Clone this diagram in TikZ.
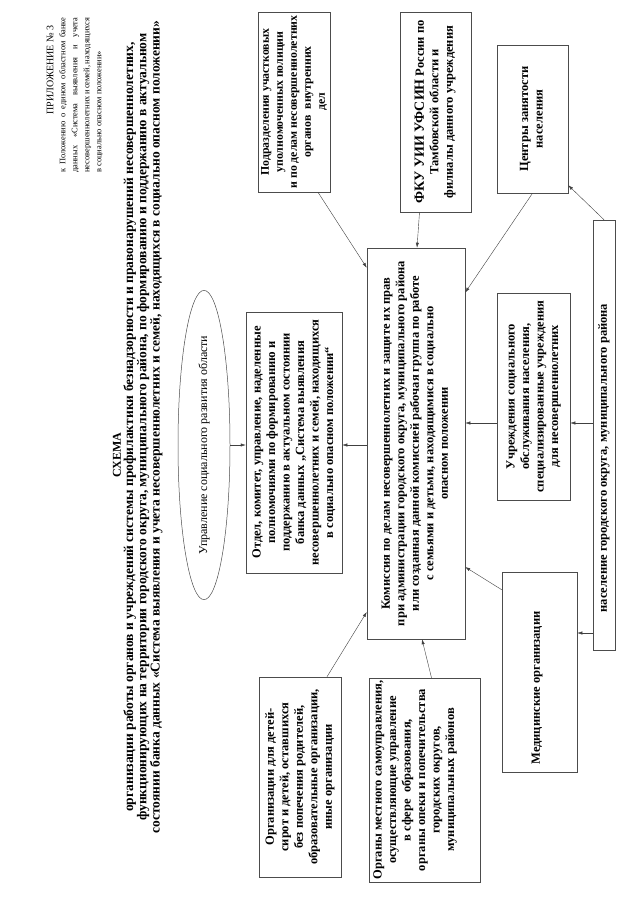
\documentclass[tikz,border=0pt]{standalone}
\usepackage{fontspec}
\setmainfont{Liberation Serif}
\usetikzlibrary{shapes.geometric,arrows.meta}
\newcommand{\rt}[1]{\rotatebox{90}{\begin{tabular}{@{}c@{}}#1\end{tabular}}}
\tikzset{
  boxn/.style={draw=black!70, line width=0.5pt, inner sep=0pt, rectangle,
    font=\fontsize{12.5}{14.5}\selectfont\bfseries},
  txt/.style={inner sep=0pt},
  arr/.style={-{Latex[length=5pt,width=3.2pt]}, draw=black!75, line width=0.4pt},
}
\begin{document}
\begin{tikzpicture}[x=1pt,y=-1pt]
\useasboundingbox[fill=white] (0,0) rectangle (640,905);
% header
\node[txt, rotate=90, font=\fontsize{10}{12}\selectfont] (pril) at (50,70) {ПРИЛОЖЕНИЕ № 3};
\node[txt, rotate=90, font=\fontsize{8.4}{12}\selectfont] (polozh) at (81,95) {\begin{tabular}{@{}l@{}}
\makebox[155pt][s]{к Положению о едином областном банке}\\
\makebox[155pt][s]{данных «Система выявления и учета}\\
\makebox[155pt][s]{несовершеннолетних и семей, находящихся}\\
\makebox[155pt][l]{в социально опасном положении»}
\end{tabular}};
\node[txt, font=\fontsize{12}{12.5}\selectfont\bfseries] (schema) at (117,455) {\rotatebox{90}{СХЕМА}};
\node[txt, font=\fontsize{13.5}{12.5}\selectfont\bfseries] (subt) at (143.5,427) {\rt{организации работы органов и учреждений системы профилактики безнадзорности и правонарушений несовершеннолетних,\\
функционирующих на территории городского округа, муниципального района, по формированию и поддержанию в актуальном\\
состоянии банка данных «Система выявления и учета несовершеннолетних и семей, находящихся в социально опасном положении»}};
% ellipse
\node[draw=black!70, line width=0.5pt, ellipse, inner sep=0pt, minimum width=52pt, minimum height=305pt,
  font=\fontsize{12}{14}\selectfont] (ell) at (204,445) {\rotatebox{90}{Управление социального развития области}};
% boxes
\node[boxn, minimum width=96pt, minimum height=261pt] (otdel) at (294,442.5) {\rt{Отдел, комитет, управление, наделенные\\
полномочиями по формированию и\\
поддержанию в актуальном состоянии\\
банка данных „Система выявления\\
несовершеннолетних и семей, находящихся\\
в социально опасном положении“}};
\node[boxn, minimum width=72pt, minimum height=180pt, font=\fontsize{11.8}{14}\selectfont\bfseries] (podr) at (294,102) {\rt{Подразделения участковых\\
уполномоченных полиции\\
и по делам несовершеннолетних\\
органов~~внутренних\\
дел}};
\node[boxn, minimum width=71pt, minimum height=200pt] (fku) at (435.5,112) {\rt{{\fontsize{14}{14.5}\selectfont ФКУ УИИ УФСИН} России по\\
Тамбовской области и\\
филиалы данного учреждения}};
\node[boxn, minimum width=71pt, minimum height=148pt] (centry) at (532.5,119) {\rt{Центры занятости\\ населения}};
\node[boxn, minimum width=98pt, minimum height=391pt] (komis) at (416,443.5) {\rt{Комиссия по делам несовершеннолетних и защите их прав\\
при администрации городского округа, муниципального района\\
или созданная данной комиссией рабочая группа по работе\\
с семьями и детьми, находящимися в социально\\
опасном положении}};
\node[boxn, minimum width=73pt, minimum height=207pt] (uchr) at (533.5,396.5) {\rt{Учреждения социального\\
обслуживания населения,\\
специализированные учреждения\\
для несовершеннолетних}};
\node[boxn, minimum width=22pt, minimum height=430pt] (nasel) at (604,435) {};
\node[txt, font=\fontsize{12.5}{14.5}\selectfont\bfseries] (naselt) at (604,458) {\rotatebox{90}{население городского округа, муниципального района}};
\node[boxn, minimum width=75pt, minimum height=200pt] (med) at (539.5,672) {};
\node[txt, font=\fontsize{12.5}{14.5}\selectfont\bfseries] (medt) at (537,688) {\rotatebox{90}{Медицинские организации}};
\node[boxn, minimum width=111pt, minimum height=204pt] (organy) at (424.5,780) {};
\node[txt, font=\fontsize{12.5}{14.5}\selectfont\bfseries] (organyt) at (415,780) {\rt{Органы местного самоуправления,\\
осуществляющие управление\\
в сфере~~образования,\\
органы опеки и попечительства\\
городских округов,\\
муниципальных районов}};
\node[boxn, minimum width=82pt, minimum height=200pt] (orgdet) at (300,777) {\rt{Организации для детей-\\
сирот и детей, оставшихся\\
без попечения родителей,\\
образовательные организации,\\
иные организации}};
% levels
\coordinate (lvA) at (0,423);
\coordinate (lvB) at (0,633);
% connectors
\draw[arr] (ell.east) -- (otdel.west |- ell.east);
\draw[arr] (komis.west |- ell.east) -- (otdel.east |- ell.east);
\draw[arr] ([xshift=24pt]podr.south) -- ([yshift=-20pt]komis.north west);
\draw[arr] ([xshift=-16pt]fku.south) -- ([xshift=1pt]komis.north);
\draw[arr] (centry.south) -- ([yshift=151pt]komis.east);
\draw[arr] (nasel.north) -- ([yshift=8pt]centry.south east);
\draw[arr] (uchr.west |- lvA) -- (komis.east |- lvA);
\draw[arr] (nasel.west |- lvA) -- (uchr.east |- lvA);
\draw[arr] (nasel.west |- lvB) -- (med.east |- lvB);
\draw[arr] ([yshift=-18pt]med.north west) -- ([yshift=-123.5pt]komis.east);
\draw[arr] ([xshift=7pt]organy.north) -- ([xshift=6pt]komis.south);
\draw[arr] ([xshift=27pt]orgdet.north) -- ([yshift=-168.5pt]komis.west);
\end{tikzpicture}
\end{document}
